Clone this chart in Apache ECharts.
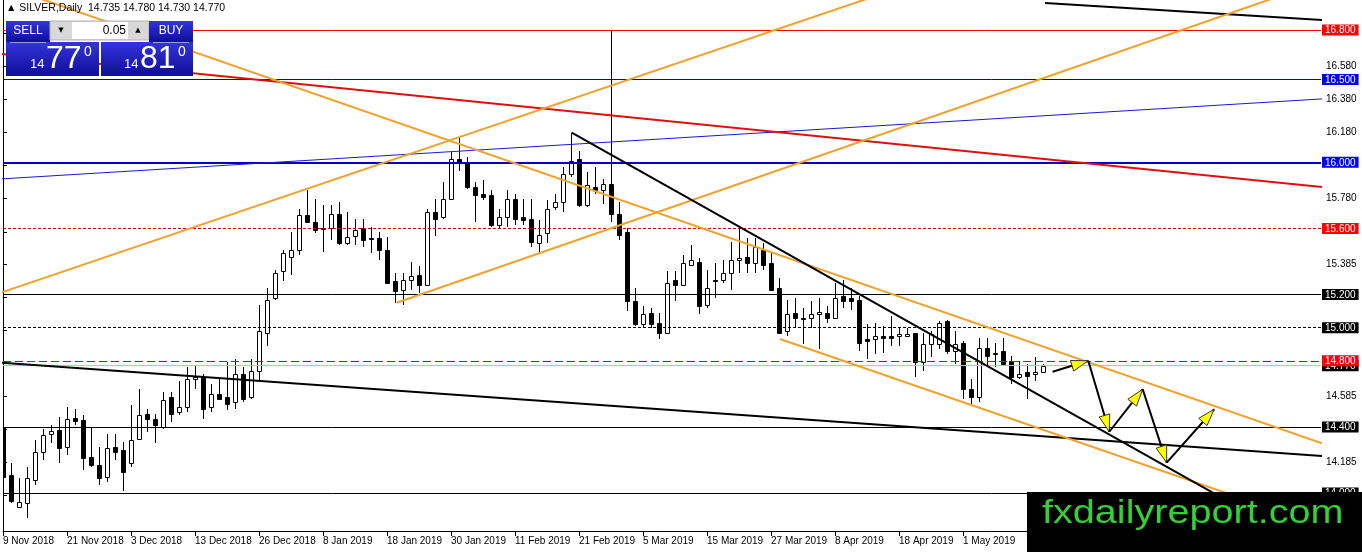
<!DOCTYPE html>
<html>
<head>
<meta charset="utf-8">
<title>SILVER,Daily</title>
<script src="https://cdn.jsdelivr.net/npm/echarts@6.0.0/dist/echarts.min.js"></script>
<style>
  html, body { margin: 0; padding: 0; background: #fff; }
  #chart { width: 1362px; height: 552px; }
</style>
</head>
<body>
<div id="chart"></div>
<script>
// date labels under the axis, one every 8 bars
const tickLabels = ['9 Nov 2018', '21 Nov 2018', '3 Dec 2018', '13 Dec 2018', '26 Dec 2018', '8 Jan 2019',
  '18 Jan 2019', '30 Jan 2019', '11 Feb 2019', '21 Feb 2019', '5 Mar 2019', '15 Mar 2019',
  '27 Mar 2019', '8 Apr 2019', '18 Apr 2019', '1 May 2019'];

// daily candles, bar 0 = 9 Nov 2018
const opens = [14.40, 14.11, 13.918, 13.94, 14.08, 14.25, 14.356, 14.38, 14.28, 14.454,
  14.44, 14.22, 14.17, 14.10, 14.28, 14.26, 14.18, 14.33, 14.48, 14.45,
  14.40, 14.58, 14.49, 14.52, 14.69, 14.70, 14.52, 14.60, 14.58, 14.55,
  14.72, 14.58, 14.74, 14.97, 15.18, 15.34, 15.43, 15.47, 15.68, 15.64,
  15.60, 15.60, 15.69, 15.51, 15.555, 15.60, 15.54, 15.54, 15.47, 15.28,
  15.23, 15.29, 15.32, 15.26, 15.70, 15.67, 15.78, 16.02, 16.00, 15.85,
  15.81, 15.80, 15.62, 15.67, 15.78, 15.67, 15.66, 15.51, 15.57, 15.73,
  15.76, 15.93, 16.02, 15.74, 15.85, 15.83, 15.87, 15.69, 15.58, 15.16,
  15.02, 15.09, 15.03, 14.97, 15.29, 15.26, 15.38, 15.40, 15.14, 15.29,
  15.29, 15.33, 15.41, 15.43, 15.39, 15.47, 15.39, 15.24, 14.98, 15.09,
  15.06, 15.06, 15.08, 15.09, 15.06, 15.19, 15.18, 15.17, 14.93, 14.93,
  14.95, 14.95, 14.95, 14.95, 14.97, 14.79, 14.90, 14.90, 15.04, 14.86,
  14.91, 14.63, 14.58, 14.88, 14.84, 14.86, 14.80, 14.70, 14.73, 14.72,
  14.735];
const highs = [14.42, 14.18, 14.09, 14.16, 14.32, 14.39, 14.41, 14.46, 14.52, 14.51,
  14.47, 14.40, 14.28, 14.36, 14.36, 14.31, 14.53, 14.63, 14.51, 14.48,
  14.61, 14.61, 14.68, 14.76, 14.77, 14.72, 14.66, 14.69, 14.79, 14.81,
  14.76, 14.81, 15.14, 15.24, 15.35, 15.47, 15.58, 15.72, 15.83, 15.78,
  15.74, 15.74, 15.76, 15.70, 15.66, 15.66, 15.61, 15.58, 15.55, 15.33,
  15.33, 15.40, 15.37, 15.72, 15.78, 15.88, 16.06, 16.15, 16.03, 15.88,
  15.89, 15.83, 15.72, 15.83, 15.81, 15.78, 15.78, 15.65, 15.77, 15.81,
  15.97, 16.18, 16.07, 15.94, 15.97, 15.90, 16.80, 15.76, 15.60, 15.24,
  15.13, 15.12, 15.09, 15.34, 15.34, 15.44, 15.50, 15.42, 15.35, 15.39,
  15.41, 15.52, 15.60, 15.54, 15.54, 15.51, 15.45, 15.30, 15.17, 15.18,
  15.12, 15.16, 15.18, 15.13, 15.27, 15.29, 15.24, 15.19, 15.02, 15.03,
  15.01, 15.07, 15.00, 15.00, 14.97, 14.97, 14.98, 15.04, 15.045, 14.98,
  14.92, 14.69, 14.94, 14.94, 14.91, 14.94, 14.83, 14.80, 14.78, 14.82,
  14.78];
const lows = [14.06, 13.94, 13.91, 13.85, 14.05, 14.20, 14.30, 14.18, 14.23, 14.41,
  14.14, 14.16, 14.05, 14.07, 14.20, 14.01, 14.16, 14.32, 14.37, 14.30,
  14.39, 14.43, 14.47, 14.49, 14.63, 14.45, 14.49, 14.56, 14.50, 14.51,
  14.55, 14.57, 14.68, 14.89, 15.17, 15.28, 15.32, 15.44, 15.63, 15.57,
  15.46, 15.53, 15.50, 15.50, 15.50, 15.49, 15.45, 15.41, 15.27, 15.15,
  15.14, 15.23, 15.21, 15.25, 15.555, 15.66, 15.78, 15.95, 15.84, 15.64,
  15.77, 15.61, 15.60, 15.61, 15.62, 15.62, 15.49, 15.45, 15.51, 15.71,
  15.70, 15.91, 15.73, 15.73, 15.81, 15.75, 15.64, 15.53, 15.10, 15.01,
  15.00, 15.00, 14.93, 14.96, 15.16, 15.26, 15.38, 15.08, 15.12, 15.18,
  15.27, 15.23, 15.33, 15.33, 15.33, 15.35, 15.22, 14.96, 14.95, 15.00,
  14.90, 15.00, 14.87, 15.03, 15.05, 15.12, 15.11, 14.86, 14.81, 14.84,
  14.85, 14.89, 14.89, 14.945, 14.70, 14.74, 14.82, 14.87, 14.84, 14.78,
  14.57, 14.54, 14.55, 14.76, 14.76, 14.78, 14.66, 14.69, 14.57, 14.68,
  14.73];
const closes = [14.10, 13.95, 13.944, 14.09, 14.25, 14.35, 14.376, 14.27, 14.45, 14.438,
  14.21, 14.17, 14.09, 14.27, 14.25, 14.13, 14.32, 14.47, 14.45, 14.41,
  14.56, 14.48, 14.52, 14.69, 14.70, 14.51, 14.60, 14.57, 14.54, 14.72,
  14.57, 14.74, 14.98, 15.17, 15.33, 15.45, 15.47, 15.68, 15.64, 15.59,
  15.595, 15.69, 15.51, 15.55, 15.59, 15.53, 15.535, 15.47, 15.27, 15.22,
  15.29, 15.31, 15.26, 15.70, 15.66, 15.78, 16.02, 16.00, 15.85, 15.80,
  15.79, 15.62, 15.67, 15.78, 15.66, 15.65, 15.52, 15.56, 15.72, 15.76,
  15.93, 16.01, 15.74, 15.86, 15.83, 15.87, 15.69, 15.56, 15.16, 15.02,
  15.08, 15.02, 14.97, 15.27, 15.26, 15.39, 15.41, 15.13, 15.24, 15.285,
  15.33, 15.41, 15.42, 15.39, 15.49, 15.38, 15.23, 14.97, 15.08, 15.06,
  15.05, 15.08, 15.095, 15.06, 15.18, 15.16, 15.16, 14.91, 14.92, 14.95,
  14.94, 14.94, 14.96, 14.96, 14.79, 14.90, 14.96, 15.03, 14.86, 14.90,
  14.63, 14.58, 14.88, 14.83, 14.85, 14.78, 14.70, 14.72, 14.71, 14.73,
  14.77];

// price scale labels
const visibleTicks = [16.58, 16.38, 16.18, 15.78, 15.385, 14.585, 14.185];
const hiddenTicks = [16.78, 15.98, 15.58, 15.185, 14.985, 14.785, 14.385, 13.985];

// horizontal levels (14.770 is the bid line)
const levelValues = [16.8, 16.5, 16.0, 15.6, 15.2, 15.0, 14.77, 14.8, 14.4, 14.0];

// drawn trend lines, [bar index, price] end points
const trendTopBlack = [[130.25, 16.963], [164.875, 16.860]];
const trendOrangeRise1 = [[-0.375, 15.210], [110, 17.021]];
const trendOrangeRise2 = [[49.2, 15.151], [160, 17.012]];
const trendOrangeFall1 = [[3, 17.017], [164.875, 14.301]];
const trendOrangeFall2 = [[97.125, 14.932], [164.875, 13.801]];
const trendBlackFall = [[71.09, 16.179], [164.875, 13.632]];
const trendBlackLong = [[-0.375, 14.789], [164.875, 14.224]];
const trendRed = [[-0.375, 16.656], [164.875, 15.851]];
const trendBlue = [[-0.375, 15.899], [164.875, 16.383]];

// projected path, an arrow on each leg
const arrowPath = [[131.2, 14.734], [135.66, 14.800], [138.29, 14.371], [142.46, 14.628], [145.46, 14.184], [151.4, 14.507]];

const FONT = 'Liberation Sans';
const yMin = 13.771, yMax = 16.981;

// styles for levels, same order as levelValues
const levelStyles = [
  {color: '#ff0000', width: 1, type: 'solid', tag: 'r'},
  {color: '#0000c8', width: 1, type: 'solid', tag: 'b'},
  {color: '#0000c8', width: 2, type: 'solid', tag: 'b'},
  {color: '#dd0000', width: 1, type: [3, 2], tag: 'r'},
  {color: '#000000', width: 1, type: 'solid', tag: 'k'},
  {color: '#000000', width: 1, type: [3, 2], tag: 'k'},
  {color: '#c0c0c0', width: 1, type: 'solid', tag: 'k'},
  {color: '#e00000', width: 1, type: [8, 4], tag: 'r'},
  {color: '#000000', width: 1, type: 'solid', tag: 'k'},
  {color: '#000000', width: 1, type: 'solid', tag: 'k'}
];

const candleData = opens.map((o, i) => [i, o, highs[i], lows[i], closes[i]]);
const tickIdx = tickLabels.map((_, k) => k * 8);
const arrowSegs = [];
for (let i = 1; i < arrowPath.length; i++) {
  arrowSegs.push([arrowPath[i - 1][0], arrowPath[i - 1][1], arrowPath[i][0], arrowPath[i][1]]);
}

function trend(data, color, width) {
  return {
    type: 'line', data: data, showSymbol: false, symbol: 'none', silent: true,
    clip: true, z: 5, lineStyle: {color: color, width: width}
  };
}

function renderCandle(params, api) {
  const x = api.value(0);
  const o = api.value(1), h = api.value(2), l = api.value(3), c = api.value(4);
  const pO = api.coord([x, o]), pC = api.coord([x, c]);
  const pH = api.coord([x, h]), pL = api.coord([x, l]);
  const cx = Math.round(pO[0]);
  const top = Math.round(Math.min(pO[1], pC[1]));
  const bot = Math.round(Math.max(pO[1], pC[1]));
  const bull = c >= o;
  return {
    type: 'group',
    children: [
      {type: 'line', shape: {x1: cx + 0.5, y1: Math.round(pH[1]), x2: cx + 0.5, y2: Math.round(pL[1])},
        style: {stroke: '#000', lineWidth: 1}},
      {type: 'rect', shape: {x: cx - 1.5, y: top + 0.5, width: 4, height: Math.max(bot - top, 1)},
        style: {fill: bull ? '#fff' : '#000', stroke: '#000', lineWidth: 1}}
    ]
  };
}

function renderArrow(params, api) {
  const p1 = api.coord([api.value(0), api.value(1)]);
  const p2 = api.coord([api.value(2), api.value(3)]);
  const dx = p2[0] - p1[0], dy = p2[1] - p1[1];
  const len = Math.sqrt(dx * dx + dy * dy);
  const ux = dx / len, uy = dy / len;
  const L = 17, W = 11;
  const bx = p2[0] - ux * L, by = p2[1] - uy * L;
  return {
    type: 'group',
    children: [
      {type: 'line', shape: {x1: p1[0], y1: p1[1], x2: p2[0], y2: p2[1]},
        style: {stroke: '#000', lineWidth: 2}},
      {type: 'polygon', shape: {points: [[p2[0], p2[1]], [bx - uy * W / 2, by + ux * W / 2], [bx + uy * W / 2, by - ux * W / 2]]},
        style: {fill: '#ffff00', stroke: '#333', lineWidth: 1}}
    ]
  };
}

const blueGrad = () => new echarts.graphic.LinearGradient(0, 0, 0, 1, [
  {offset: 0, color: '#3434dc'}, {offset: 1, color: '#0e0e96'}
]);

function priceText(x, big, small) {
  return [
    {type: 'text', x: x, y: 71, style: {text: '14', fill: '#fff', font: '13px ' + FONT, textVerticalAlign: 'bottom'}},
    {type: 'text', x: x + 16, y: 75, style: {text: big, fill: '#fff', font: '32px ' + FONT, textVerticalAlign: 'bottom'}},
    {type: 'text', x: x + 54, y: 45, style: {text: small, fill: '#fff', font: '14px ' + FONT}}
  ];
}

// panel and watermark sit above the chart
const onTop = list => list.map(e => Object.assign({z: 100, silent: true}, e));

const panel = onTop([
  {type: 'rect', shape: {x: 6, y: 21, width: 44, height: 21}, style: {fill: blueGrad()}},
  {type: 'text', x: 28, y: 31, style: {text: 'SELL', fill: '#fff', font: '12px ' + FONT, textAlign: 'center', textVerticalAlign: 'middle'}},
  {type: 'rect', shape: {x: 50, y: 21, width: 99, height: 19}, style: {fill: '#d8d8d8', stroke: '#b0b0b0', lineWidth: 1}},
  {type: 'rect', shape: {x: 72, y: 22, width: 56, height: 17}, style: {fill: '#fff'}},
  {type: 'text', x: 61, y: 30.5, style: {text: '▼', fill: '#000', font: '7px DejaVu Sans', textAlign: 'center', textVerticalAlign: 'middle'}},
  {type: 'text', x: 138, y: 30.5, style: {text: '▲', fill: '#000', font: '7px DejaVu Sans', textAlign: 'center', textVerticalAlign: 'middle'}},
  {type: 'text', x: 126, y: 30.5, style: {text: '0.05', fill: '#000', font: '12px ' + FONT, textAlign: 'right', textVerticalAlign: 'middle'}},
  {type: 'rect', shape: {x: 149, y: 21, width: 44, height: 21}, style: {fill: blueGrad()}},
  {type: 'text', x: 171, y: 31, style: {text: 'BUY', fill: '#fff', font: '12px ' + FONT, textAlign: 'center', textVerticalAlign: 'middle'}},
  {type: 'rect', shape: {x: 6, y: 42, width: 93, height: 34}, style: {fill: blueGrad()}},
  {type: 'rect', shape: {x: 101, y: 42, width: 92, height: 34}, style: {fill: blueGrad()}},
  {type: 'line', shape: {x1: 10, y1: 42.5, x2: 46, y2: 42.5}, style: {stroke: '#9a9aee', lineWidth: 1}},
  {type: 'line', shape: {x1: 153, y1: 42.5, x2: 189, y2: 42.5}, style: {stroke: '#9a9aee', lineWidth: 1}}
].concat(priceText(30, '77', '0'), priceText(124, '81', '0')));

const watermark = onTop([
  {type: 'rect', shape: {x: 1027, y: 492, width: 335, height: 60}, style: {fill: '#000'}},
  {type: 'text', x: 1042, y: 514, scaleX: 1.2,
    style: {text: 'fxdailyreport.com', fill: '#35d035', font: '33px ' + FONT, textVerticalAlign: 'middle'}}
]);

const chart = echarts.init(document.getElementById('chart'));
chart.setOption({
  animation: false,
  backgroundColor: '#fff',
  grid: {left: 3, right: 41, top: 0, bottom: 21, containLabel: false, outerBoundsMode: 'none'},
  xAxis: {
    type: 'value', min: 0, max: 164.75,
    axisLine: {show: true, onZero: false, lineStyle: {color: '#000', width: 1}},
    axisTick: {show: true, customValues: tickIdx, length: 5, lineStyle: {color: '#000'}},
    axisLabel: {
      customValues: tickIdx, align: 'left', margin: 5, color: '#000', fontSize: 10, fontFamily: FONT,
      formatter: v => tickLabels[tickIdx.indexOf(v)] || ''
    },
    splitLine: {show: false}
  },
  yAxis: [
    {
      type: 'value', position: 'right', min: yMin, max: yMax,
      axisLine: {show: true, lineStyle: {color: '#000', width: 1}},
      axisTick: {show: true, customValues: visibleTicks.concat(hiddenTicks), length: 4, lineStyle: {color: '#000'}},
      axisLabel: {customValues: visibleTicks, margin: 5, color: '#000', fontSize: 10, fontFamily: FONT,
        formatter: v => v.toFixed(3)},
      splitLine: {show: false}
    },
    {
      type: 'value', position: 'right', min: yMin, max: yMax,
      axisLine: {show: false}, axisTick: {show: false}, splitLine: {show: false},
      axisLabel: {
        customValues: levelValues, margin: 1, fontFamily: FONT,
        formatter: v => {
          const k = levelValues.findIndex(t => Math.abs(t - v) < 1e-6);
          return '{' + (k >= 0 ? levelStyles[k].tag : 'k') + '|' + v.toFixed(3) + '}';
        },
        rich: {
          r: {backgroundColor: '#ff0000', color: '#fff', fontSize: 10, lineHeight: 11, padding: [1, 3, 0, 3], fontFamily: FONT},
          b: {backgroundColor: '#0000ff', color: '#fff', fontSize: 10, lineHeight: 11, padding: [1, 3, 0, 3], fontFamily: FONT},
          k: {backgroundColor: '#000000', color: '#fff', fontSize: 10, lineHeight: 11, padding: [1, 3, 0, 3], fontFamily: FONT}
        }
      }
    },
    {
      type: 'value', position: 'left', min: yMin, max: yMax,
      axisLine: {show: true, lineStyle: {color: '#000', width: 1}},
      axisTick: {show: false}, axisLabel: {show: false}, splitLine: {show: false}
    }
  ],
  series: [
    {
      type: 'custom', name: 'SILVER', renderItem: renderCandle, data: candleData, clip: true, z: 3,
      dimensions: ['x', 'open', 'high', 'low', 'close'],
      encode: {x: 0, y: [1, 2, 3, 4]}, silent: true
    },
    {
      type: 'line', data: [], silent: true, z: 4,
      markLine: {
        silent: true, symbol: ['none', 'none'], label: {show: false},
        data: levelValues.map((v, k) => ({
          yAxis: v,
          lineStyle: {color: levelStyles[k].color, width: levelStyles[k].width, type: levelStyles[k].type}
        }))
      }
    },
    trend(trendBlue, '#1a1acc', 1),
    trend(trendRed, '#dd1010', 2),
    trend(trendBlackLong, '#000', 2),
    trend(trendTopBlack, '#000', 2),
    trend(trendOrangeRise1, '#f3a12a', 2),
    trend(trendOrangeRise2, '#f3a12a', 2),
    trend(trendOrangeFall1, '#f3a12a', 2),
    trend(trendOrangeFall2, '#f3a12a', 2),
    trend(trendBlackFall, '#000', 2),
    {
      type: 'custom', renderItem: renderArrow, data: arrowSegs, clip: true, z: 6, silent: true,
      encode: {x: [0, 2], y: [1, 3]}
    }
  ],
  graphic: [
    {
      type: 'text', left: 6, top: 3, z: 100,
      style: {text: '▲ SILVER,Daily  14.735 14.780 14.730 14.770', fill: '#000', font: '10.5px ' + FONT}
    }
  ].concat(panel, watermark)
});
</script>
</body>
</html>
